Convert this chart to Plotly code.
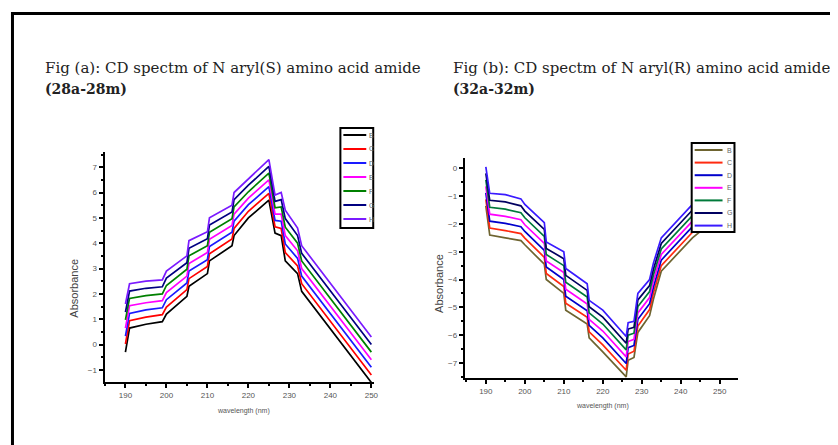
import plotly.graph_objects as go

# page body adds an 8px margin; build the figure so screen pixels match
OFF = 8
W, H = 838 - OFF, 445 - OFF

# ---------------- data ----------------
series_names = ["B", "C", "D", "E", "F", "G", "H"]

# Fig (a)
wl_a = [190, 191, 195, 199, 200, 205, 205.5, 210, 210.5, 216, 216.5, 220, 225, 226.5, 228, 229, 232, 233, 250]
a_B = [-0.3, 0.65, 0.8, 0.9, 1.2, 1.9, 2.3, 2.8, 3.3, 3.9, 4.3, 5.0, 5.7, 4.4, 4.3, 3.3, 2.8, 2.1, -1.5]
a_C = [0.02, 0.94, 1.08, 1.18, 1.48, 2.17, 2.6, 3.08, 3.58, 4.17, 4.58, 5.26, 5.97, 4.65, 4.58, 3.63, 3.1, 2.4, -1.2]
a_D = [0.33, 1.23, 1.37, 1.45, 1.77, 2.43, 2.9, 3.35, 3.87, 4.43, 4.87, 5.52, 6.23, 4.9, 4.87, 3.97, 3.4, 2.7, -0.9]
a_E = [0.65, 1.53, 1.65, 1.73, 2.05, 2.7, 3.2, 3.63, 4.15, 4.7, 5.15, 5.78, 6.5, 5.15, 5.15, 4.3, 3.7, 3.0, -0.6]
a_F = [0.97, 1.82, 1.93, 2.0, 2.33, 2.97, 3.5, 3.9, 4.43, 4.97, 5.43, 6.03, 6.77, 5.4, 5.43, 4.63, 4.0, 3.3, -0.3]
a_G = [1.28, 2.11, 2.22, 2.28, 2.62, 3.23, 3.8, 4.18, 4.72, 5.23, 5.72, 6.29, 7.03, 5.65, 5.72, 4.97, 4.3, 3.6, 0.0]
a_H = [1.6, 2.4, 2.5, 2.55, 2.9, 3.5, 4.1, 4.45, 5.0, 5.5, 6.0, 6.55, 7.3, 5.9, 6.0, 5.3, 4.6, 3.9, 0.3]

# Fig (b)
wl_b = [190, 191, 195, 199, 200, 205, 205.5, 210, 210.5, 216, 216.5, 220, 226, 226.5, 228, 229, 232, 233, 235, 243, 250]
b_B = [-1.35, -2.4, -2.5, -2.6, -2.75, -3.45, -4.0, -4.5, -5.1, -5.6, -6.1, -6.6, -7.5, -6.9, -6.8, -5.9, -5.3, -4.7, -3.7, -2.5, -1.7]
b_C = [-1.12, -2.15, -2.24, -2.35, -2.51, -3.2, -3.78, -4.25, -4.85, -5.36, -5.88, -6.35, -7.26, -6.68, -6.58, -5.67, -5.08, -4.48, -3.5, -2.3, -1.48]
b_D = [-0.88, -1.9, -1.98, -2.1, -2.27, -2.95, -3.55, -4.0, -4.6, -5.12, -5.65, -6.1, -7.02, -6.45, -6.37, -5.43, -4.87, -4.27, -3.3, -2.1, -1.27]
b_E = [-0.65, -1.65, -1.73, -1.85, -2.03, -2.7, -3.33, -3.75, -4.35, -4.88, -5.43, -5.85, -6.78, -6.23, -6.15, -5.2, -4.65, -4.05, -3.1, -1.9, -1.05]
b_F = [-0.42, -1.4, -1.47, -1.6, -1.78, -2.45, -3.1, -3.5, -4.1, -4.63, -5.2, -5.6, -6.53, -6.0, -5.93, -4.97, -4.43, -3.83, -2.9, -1.7, -0.83]
b_G = [-0.18, -1.15, -1.21, -1.35, -1.54, -2.2, -2.88, -3.25, -3.85, -4.39, -4.98, -5.35, -6.29, -5.78, -5.72, -4.73, -4.22, -3.62, -2.7, -1.5, -0.62]
b_H = [0.05, -0.9, -0.95, -1.1, -1.3, -1.95, -2.65, -3.0, -3.6, -4.15, -4.75, -5.1, -6.05, -5.55, -5.5, -4.5, -4.0, -3.4, -2.5, -1.3, -0.4]

x_ticks = [190, 200, 210, 220, 230, 240, 250]
a_yticks = [-1, 0, 1, 2, 3, 4, 5, 6, 7]
b_yticks = [0, -1, -2, -3, -4, -5, -6, -7]

title_a = ["Fig (a): CD spectm of N aryl(S) amino acid amide", "(28a-28m)"]
title_b = ["Fig (b): CD spectm of N aryl(R) amino acid amide", "(32a-32m)"]

colors_a = ["#000000", "#ff0000", "#1a1aff", "#ff00ff", "#008000", "#000080", "#7a1aff"]
colors_b = ["#6e6430", "#ff2a10", "#0000cc", "#ff00ff", "#007a3a", "#000060", "#3a1aff"]

# ---------------- helpers (screen px -> paper) ----------------
def px(x):
    return (x - OFF) / W

def py(y):
    return 1 - (y - OFF) / H

fig = go.Figure()

a_series = [a_B, a_C, a_D, a_E, a_F, a_G, a_H]
b_series = [b_B, b_C, b_D, b_E, b_F, b_G, b_H]

for name, ys, c in zip(series_names, a_series, colors_a):
    fig.add_trace(go.Scatter(x=wl_a, y=ys, mode="lines", name=name,
                             line=dict(color=c, width=1.7), xaxis="x", yaxis="y",
                             showlegend=False))
for name, ys, c in zip(series_names, b_series, colors_b):
    fig.add_trace(go.Scatter(x=wl_b, y=ys, mode="lines", name=name,
                             line=dict(color=c, width=1.7), xaxis="x2", yaxis="y2",
                             showlegend=False))

tickfont = dict(family="Liberation Sans, Arial", size=8, color="#555")
axis_common = dict(showline=True, linecolor="black", linewidth=2, ticks="outside",
                   ticklen=4, tickwidth=1.5, tickcolor="black", showgrid=False,
                   zeroline=False, tickfont=tickfont)

fig.update_layout(
    width=W, height=H, margin=dict(l=0, r=0, t=0, b=0),
    paper_bgcolor="white", plot_bgcolor="white",
    xaxis=dict(domain=[px(105), px(376)], range=[184.9, 250.7], tickvals=x_ticks,
               minor=dict(dtick=5, ticklen=2, tickcolor="black", ticks="outside"),
               anchor="y", **axis_common),
    yaxis=dict(domain=[py(382), py(152)], range=[-1.48, 7.6], tickvals=a_yticks,
               minor=dict(dtick=0.5, ticklen=2, tickcolor="black", ticks="outside"),
               anchor="x", **axis_common),
    xaxis2=dict(domain=[px(467), px(742)], range=[184.6, 254.8], tickvals=x_ticks,
                minor=dict(dtick=5, ticklen=2, tickcolor="black", ticks="outside"),
                anchor="y2", **axis_common),
    yaxis2=dict(domain=[py(378), py(158)], range=[-7.54, 0.37], tickvals=b_yticks,
                minor=dict(dtick=0.5, ticklen=2, tickcolor="black", ticks="outside"),
                anchor="x2", **axis_common),
)

annotations = []
serif = "DejaVu Serif"
for tx, t in ((43, title_a), (453, title_b)):
    annotations.append(dict(x=px(tx), y=py(68), xref="paper", yref="paper", text=t[0],
                            showarrow=False, xanchor="left", yanchor="middle",
                            font=dict(family=serif, size=15, color="#222")))
    annotations.append(dict(x=px(tx), y=py(89), xref="paper", yref="paper",
                            text="<b>" + t[1] + "</b>",
                            showarrow=False, xanchor="left", yanchor="middle",
                            font=dict(family=serif, size=14, color="#222")))

sans = "Liberation Sans, Arial"
for xx, yy in ((74, 288), (441, 283)):
    annotations.append(dict(x=px(xx), y=py(yy), xref="paper", yref="paper", text="Absorbance",
                            showarrow=False, textangle=-90, xanchor="center", yanchor="middle",
                            font=dict(family=sans, size=11, color="#444")))
for xx, yy in ((245, 411), (605, 406)):
    annotations.append(dict(x=px(xx), y=py(yy), xref="paper", yref="paper", text="wavelength (nm)",
                            showarrow=False, xanchor="center", yanchor="middle",
                            font=dict(family=sans, size=7, color="#555")))

shapes = []
# page border
shapes.append(dict(type="line", xref="paper", yref="paper", x0=px(12.5), x1=px(12.5),
                   y0=py(12), y1=py(450), line=dict(color="black", width=3)))
shapes.append(dict(type="line", xref="paper", yref="paper", x0=px(11), x1=px(840),
                   y0=py(13.5), y1=py(13.5), line=dict(color="black", width=3)))
shapes.append(dict(type="line", xref="paper", yref="paper", x0=px(834.5), x1=px(834.5),
                   y0=py(13), y1=py(450), line=dict(color="#999", width=1)))

# manual legends
def legend(x0, x1, y0, y1, step, colors, lx0, lx1, tx):
    shapes.append(dict(type="rect", xref="paper", yref="paper", x0=px(x0), x1=px(x1),
                       y0=py(y0), y1=py(y1), fillcolor="white",
                       line=dict(color="black", width=2), layer="above"))
    for i, (n, c) in enumerate(zip(series_names, colors)):
        yy = y0 + 7 + i * step
        shapes.append(dict(type="line", xref="paper", yref="paper", x0=px(lx0), x1=px(lx1),
                           y0=py(yy), y1=py(yy), line=dict(color=c, width=2), layer="above"))
        annotations.append(dict(x=px(tx), y=py(yy), xref="paper", yref="paper", text=n,
                                showarrow=False, xanchor="left", yanchor="middle",
                                font=dict(family=sans, size=7, color="#666")))

legend(342, 375, 128, 228, 14, colors_a, 345, 368, 369)
legend(695, 738, 143, 232, 12.6, colors_b, 698, 726, 728)

fig.update_layout(annotations=annotations, shapes=shapes)
fig.write_html("out.html")
